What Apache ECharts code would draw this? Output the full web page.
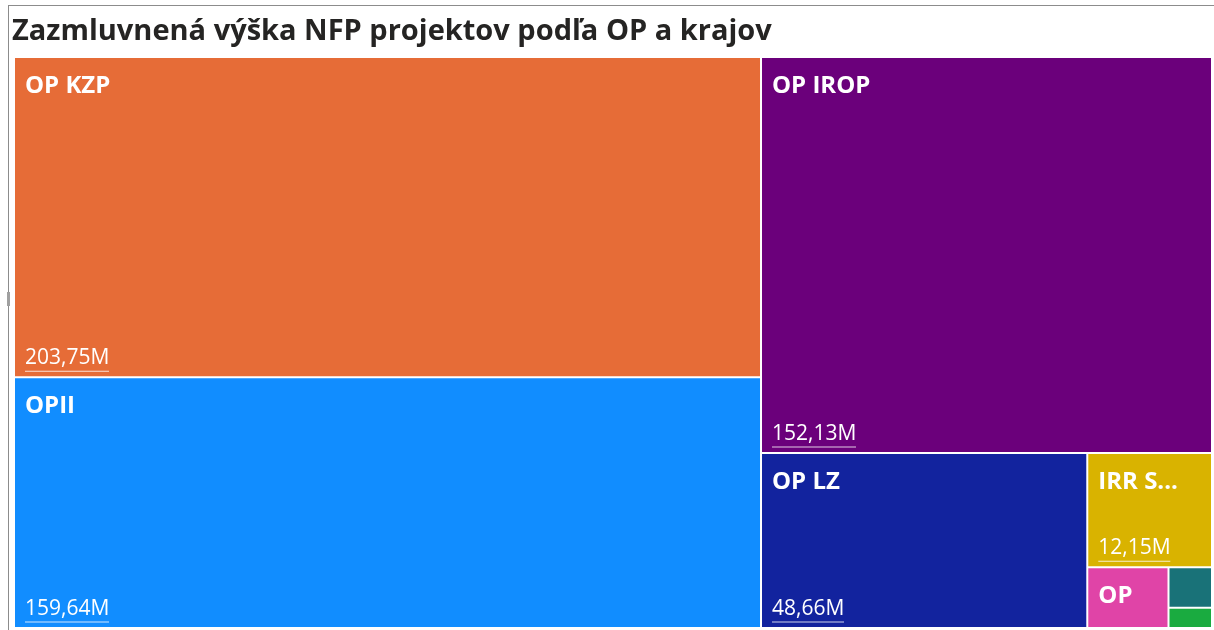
<!doctype html>
<html>
<head>
<meta charset="utf-8">
<title>Zazmluvnená výška NFP projektov podľa OP a krajov</title>
<script src="https://cdn.jsdelivr.net/npm/echarts@6/dist/echarts.min.js"></script>
<style type="text/css">
	html, body {
		margin: 0;
		padding: 0;
		background: #fff;
	}
	#frame {
		position: absolute;
		left: 8px;
		top: 5px;
		right: 0;
		bottom: 0;
		border-left: 1px solid #8c8c8c;
		border-top: 1px solid #8c8c8c;
	}
	#handle {
		position: absolute;
		left: 7px;
		top: 292px;
		width: 3px;
		height: 14px;
		background: #a0a0a0;
	}
	#chart {
		position: absolute;
		left: 0;
		top: 0;
		width: 1214px;
		height: 630px;
	}
</style>
</head>
<body>
	<div id="frame"></div>
	<div id="handle"></div>
	<div id="chart"></div>

	<script type="text/javascript">
		// OP -> contracted NFP amount (millions EUR)
		var opNames = ['OP KZP', 'OPII', 'OP IROP', 'OP LZ', 'IRR SK-AT', 'OP EVS', 'OP TP', 'OP VaI'];
		var opValues = [203.75, 159.64, 152.13, 48.66, 12.15, 4.2, 1.5, 0.75];
		var opColors = ['#E66C37', '#118DFF', '#6B007B', '#12239E', '#D9B300', '#E044A7', '#197278', '#1AAB40'];

		var ctx = document.createElement('canvas').getContext('2d');
		ctx.font = '21px "Open Sans"';

		function fmt(v) {
			return v.toFixed(2).replace('.', ',') + 'M';
		}

		var nameData = [];
		var valueData = [];
		for (var i = 0; i < opNames.length; i++) {
			nameData.push({
				name: opNames[i],
				value: opValues[i],
				itemStyle: { color: opColors[i] },
				label: { show: opValues[i] >= 2 }
			});
			var w = Math.round(ctx.measureText(fmt(opValues[i])).width);
			valueData.push({
				name: opNames[i],
				value: opValues[i],
				itemStyle: { color: 'rgba(0,0,0,0)' },
				label: {
					show: opValues[i] >= 10,
					rich: {
						v: { fontSize: 21, lineHeight: 24, color: '#fff', fontFamily: 'Open Sans' },
						u: { width: w, height: 1, lineHeight: 2, backgroundColor: 'rgba(255,255,255,0.8)' }
					}
				}
			});
		}

		var base = {
			type: 'treemap',
			left: 15,
			top: 58,
			right: 3,
			bottom: 3,
			roam: false,
			nodeClick: false,
			breadcrumb: { show: false },
			animation: false,
			levels: [
				{ itemStyle: { borderWidth: 0, gapWidth: 2, borderColor: '#fff' } },
				{ itemStyle: { borderWidth: 0 } }
			]
		};

		var myChart = echarts.init(document.getElementById('chart'));
		var option = {
			animation: false,
			title: {
				text: 'Zazmluvnená výška NFP projektov podľa OP a krajov',
				left: 7,
				top: 12,
				textStyle: {
					fontFamily: 'Open Sans',
					fontSize: 29,
					fontWeight: 'bold',
					color: '#252423'
				}
			},
			series: [
				Object.assign({}, base, {
					name: 'nazov',
					data: nameData,
					label: {
						show: true,
						position: 'insideTopLeft',
						distance: 0,
						padding: [16, 22, 0, 10],
						formatter: '{b}',
						fontFamily: 'Open Sans',
						fontSize: 24,
						fontWeight: 'bold',
						color: '#fff',
						overflow: 'truncate',
						ellipsis: '...'
					},
					emphasis: { disabled: true }
				}),
				Object.assign({}, base, {
					name: 'hodnota',
					silent: true,
					data: valueData,
					label: {
						show: true,
						position: 'insideTopLeft',
						distance: 0,
						padding: [0, 10, 0, 10],
						formatter: function (p) {
							return '{v|' + fmt(p.value) + '}\n{u| }';
						}
					},
					emphasis: { disabled: true }
				})
			]
		};
		myChart.setOption(option);

		// treemap labels start at the top of the cell, so push the value label
		// down to the cell bottom using the layout the library computed
		var root = myChart.getModel().getSeriesByIndex(0).getData().tree.root;
		root.children.forEach(function (node) {
			var idx = opNames.indexOf(node.name);
			var h = node.getLayout().height;
			valueData[idx].label.padding = [Math.max(h - 26 - 4, 0), 10, 0, 10];
		});
		myChart.setOption({ series: [{}, { data: valueData }] });
	</script>
</body>
</html>
